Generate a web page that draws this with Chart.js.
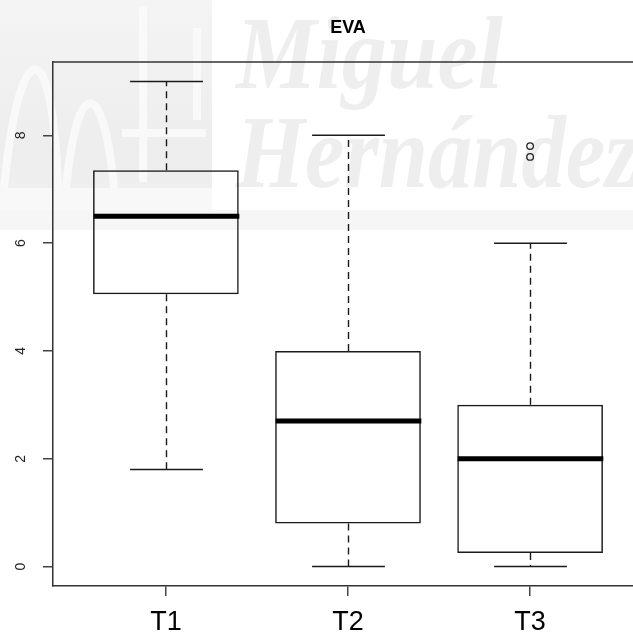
<!DOCTYPE html>
<html>
<head>
<meta charset="utf-8">
<script src="https://cdn.jsdelivr.net/npm/chart.js@4.4.1/dist/chart.umd.min.js"></script>
<style>
html, body { margin: 0; padding: 0; background: #fff; overflow: hidden; }
#wrap { width: 696px; height: 639px; }
</style>
</head>
<body>
<div id="wrap"><canvas id="c" width="696" height="639"></canvas></div>
<script>
// Five-number summaries per treatment group
const categories   = ['T1', 'T2', 'T3'];
const whiskerLow   = [1.8, 0.0, 0.0];
const quartile1    = [5.05, 0.8, 0.25];
const medians      = [6.5, 2.7, 2.0];
const quartile3    = [7.35, 4.0, 3.0];
const whiskerHigh  = [9.0, 8.0, 6.0];
// Points beyond the whiskers
const outlierGroup  = [3, 3];
const outlierValues = [7.8, 7.6];
const yTicks = [0, 2, 4, 6, 8];

const FONT = '"Liberation Sans", Arial, Helvetica, sans-serif';

// Faint university watermark behind the plot
const watermark = {
  id: 'watermark',
  beforeDraw(chart) {
    const ctx = chart.ctx;
    ctx.save();
    ctx.fillStyle = '#fff';
    ctx.fillRect(0, 0, chart.width, chart.height);

    // light horizontal band under the emblem
    ctx.fillStyle = '#f6f6f6';
    ctx.fillRect(0, 210, chart.width, 20);

    // emblem block
    const g = ctx.createLinearGradient(0, 0, 0, 190);
    g.addColorStop(0, '#f4f4f4');
    g.addColorStop(0.8, '#ededed');
    g.addColorStop(1, '#efefef');
    ctx.fillStyle = g;
    ctx.fillRect(0, 0, 212, 188);
    ctx.fillStyle = '#f8f8f8';
    ctx.fillRect(0, 188, 212, 22);

    ctx.strokeStyle = '#f9f9f9';
    ctx.lineWidth = 8;
    ctx.beginPath();
    ctx.moveTo(4, 188);
    ctx.bezierCurveTo(18, 40, 52, 20, 58, 188);
    ctx.moveTo(66, 188);
    ctx.bezierCurveTo(78, 70, 104, 80, 114, 188);
    ctx.moveTo(143, 6);  ctx.lineTo(143, 182);
    ctx.moveTo(197, 28); ctx.lineTo(197, 120);
    ctx.moveTo(122, 133); ctx.lineTo(206, 133);
    ctx.stroke();

    // name
    ctx.fillStyle = '#eeeeee';
    ctx.font = 'italic bold 103px "Liberation Serif", "DejaVu Serif", serif';
    ctx.textBaseline = 'alphabetic';
    ctx.save();
    ctx.translate(236, 88);
    ctx.scale(0.88, 1);
    ctx.fillText('Miguel', 0, 0);
    ctx.restore();
    ctx.save();
    ctx.translate(236, 187);
    ctx.scale(0.86, 1);
    ctx.fillText('Hernández', 0, 0);
    ctx.restore();
    ctx.restore();
  }
};

// Whiskers, caps, medians and the top frame line
const boxParts = {
  id: 'boxParts',
  afterDatasetsDraw(chart) {
    const ctx = chart.ctx;
    const xs = chart.scales.x, ys = chart.scales.y;
    const meta = chart.getDatasetMeta(0);
    const area = chart.chartArea;
    ctx.save();
    ctx.strokeStyle = '#333';
    ctx.lineWidth = 1.5;
    ctx.beginPath();
    ctx.moveTo(area.left, area.top);
    ctx.lineTo(area.right, area.top);
    ctx.stroke();

    categories.forEach((c, i) => {
      const cx = Math.round(xs.getPixelForValue(i + 1)) + 0.5;
      const half = meta.data[i].width / 2;
      const yLo = ys.getPixelForValue(whiskerLow[i]);
      const yQ1 = ys.getPixelForValue(quartile1[i]);
      const yMd = ys.getPixelForValue(medians[i]);
      const yQ3 = ys.getPixelForValue(quartile3[i]);
      const yHi = ys.getPixelForValue(whiskerHigh[i]);

      ctx.strokeStyle = '#1a1a1a';
      ctx.lineWidth = 1.4;
      ctx.setLineDash([7, 5]);
      ctx.beginPath();
      ctx.moveTo(cx, yQ3); ctx.lineTo(cx, yHi);
      ctx.moveTo(cx, yQ1); ctx.lineTo(cx, yLo);
      ctx.stroke();

      ctx.setLineDash([]);
      ctx.lineWidth = 1.5;
      ctx.beginPath();
      ctx.moveTo(cx - half / 2, yHi); ctx.lineTo(cx + half / 2, yHi);
      ctx.moveTo(cx - half / 2, yLo); ctx.lineTo(cx + half / 2, yLo);
      ctx.stroke();

      ctx.strokeStyle = '#000';
      ctx.lineWidth = 5;
      ctx.beginPath();
      ctx.moveTo(cx - half, yMd); ctx.lineTo(cx + half, yMd);
      ctx.stroke();
    });
    ctx.restore();
  }
};

new Chart(document.getElementById('c'), {
  type: 'bar',
  data: {
    datasets: [
      {
        data: categories.map((c, i) => ({ x: i + 1, y: [quartile1[i], quartile3[i]] })),
        backgroundColor: 'rgba(255,255,255,0)',
        borderColor: '#1a1a1a',
        borderWidth: 1.5,
        borderSkipped: false,
        categoryPercentage: 0.8,
        barPercentage: 1.0
      },
      {
        type: 'scatter',
        data: outlierGroup.map((g, i) => ({ x: g, y: outlierValues[i] })),
        pointStyle: 'circle',
        pointRadius: 3.3,
        borderColor: '#222',
        borderWidth: 1.3,
        backgroundColor: 'rgba(0,0,0,0)'
      }
    ]
  },
  options: {
    responsive: false,
    animation: false,
    devicePixelRatio: 1,
    layout: { padding: 0 },
    plugins: {
      legend: { display: false },
      tooltip: { enabled: false },
      title: {
        display: true,
        text: 'EVA',
        color: '#000',
        font: { family: FONT, size: 18, weight: 'bold' },
        padding: { top: 17, bottom: 23.4 }
      }
    },
    scales: {
      x: {
        type: 'linear',
        offset: false,
        min: 0.38,
        max: 3.62,
        afterBuildTicks: s => { s.ticks = categories.map((c, i) => ({ value: i + 1 })); },
        afterFit: s => { s.height = 53; },
        ticks: {
          callback: v => categories[v - 1] ?? '',
          color: '#000',
          font: { family: FONT, size: 27 },
          padding: 10,
          autoSkip: false,
          maxRotation: 0
        },
        grid: { offset: false, drawOnChartArea: false, drawTicks: true, tickLength: 10, color: '#444', lineWidth: 1.5 },
        border: { display: true, color: '#333', width: 1.5 }
      },
      y: {
        type: 'linear',
        position: 'left',
        min: -0.36,
        max: 9.36,
        afterBuildTicks: s => { s.ticks = yTicks.map(v => ({ value: v })); },
        afterFit: s => { s.width = 53; },
        ticks: {
          color: '#222',
          font: { family: FONT, size: 14 },
          minRotation: 90,
          maxRotation: 90,
          crossAlign: 'center',
          padding: 18
        },
        grid: { drawOnChartArea: false, drawTicks: true, tickLength: 10, color: '#444', lineWidth: 1.5 },
        border: { display: true, color: '#333', width: 1.5 }
      },
      yRight: {
        type: 'linear',
        position: 'right',
        display: true,
        afterFit: s => { s.width = 53; },
        ticks: { display: false },
        grid: { display: false, drawTicks: false },
        border: { display: true, color: '#333', width: 1.5 }
      }
    }
  },
  plugins: [watermark, boxParts]
});
</script>
</body>
</html>
